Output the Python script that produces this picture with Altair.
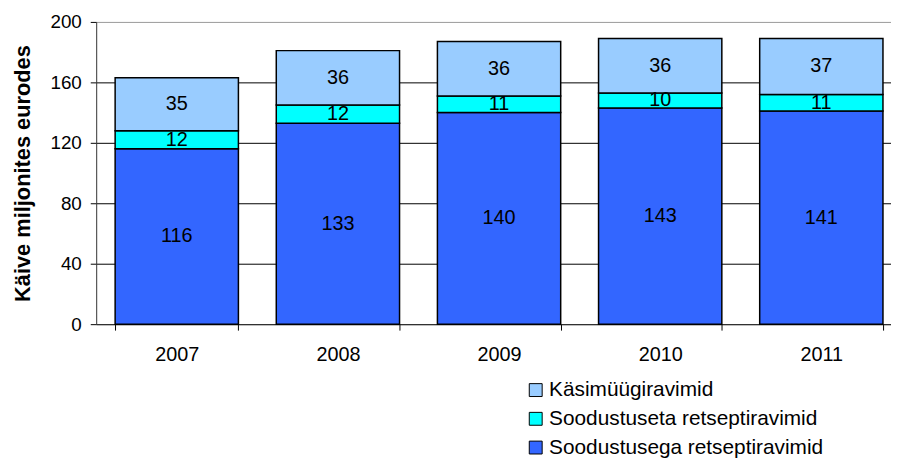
import altair as alt
import pandas as pd

years = ["2007", "2008", "2009", "2010", "2011"]
soodustusega = [116, 133, 140, 143, 141]
soodustuseta = [12, 12, 11, 10, 11]
kasimuugi = [35, 36, 36, 36, 37]
series = ["Käsimüügiravimid", "Soodustuseta retseptiravimid", "Soodustusega retseptiravimid"]
colors = ["#99CCFF", "#00FFFF", "#3366FF"]
y_ticks = [0, 40, 80, 120, 160, 200]

rows = []
for i, yr in enumerate(years):
    rows.append({"year": yr, "series": series[2], "value": soodustusega[i], "rank": 0})
    rows.append({"year": yr, "series": series[1], "value": soodustuseta[i], "rank": 1})
    rows.append({"year": yr, "series": series[0], "value": kasimuugi[i], "rank": 2})
df = pd.DataFrame(rows)

FONT = "Liberation Sans"

base = alt.Chart(df).transform_stack(
    stack="value", groupby=["year"], as_=["y0", "y1"],
    sort=[alt.SortField("rank", order="ascending")]
).transform_calculate(mid="(datum.y0 + datum.y1) / 2")


def xscale():
    return alt.Scale(domain=years, paddingInner=0.235, paddingOuter=0.1175)


xaxis = alt.Axis(
    title=None, labelAngle=0, labelFont=FONT, labelFontSize=20, labelColor="black",
    tickBand="extent", tickSize=6, tickColor="black", domainColor="#333333",
    labelPadding=15, grid=False,
)

bars = base.mark_bar(stroke="black", strokeWidth=1.5, opacity=1).encode(
    x=alt.X("year:N", scale=xscale(), axis=xaxis),
    y=alt.Y(
        "y1:Q",
        scale=alt.Scale(domain=[0, 200], nice=False),
        axis=alt.Axis(
            values=y_ticks, title="Käive miljonites eurodes", titleFont=FONT,
            titleFontSize=22, titleFontWeight="bold", titleColor="black", titlePadding=16,
            labelFont=FONT, labelFontSize=19, labelColor="black", labelPadding=9,
            tickSize=6, tickColor="black", domainColor="#333333",
            grid=True,
            gridColor=alt.condition("datum.value == 200", alt.value("#999999"), alt.value("black")),
            gridWidth=1, gridOpacity=1,
        ),
    ),
    y2="y0:Q",
    color=alt.Color(
        "series:N",
        scale=alt.Scale(domain=series, range=colors),
        legend=alt.Legend(
            title=None, orient="none", legendX=433, legendY=361,
            symbolType="square", symbolSize=169, symbolStrokeColor="black",
            symbolStrokeWidth=1, symbolOpacity=1, labelFont=FONT, labelFontSize=21,
            labelColor="black", labelLimit=0, rowPadding=7, labelOffset=3,
        ),
    ),
)

labels = base.mark_text(font=FONT, fontSize=20, color="black", baseline="middle").encode(
    x=alt.X("year:N", scale=xscale(), axis=xaxis),
    y="mid:Q",
    text="value:Q",
)

chart = alt.layer(bars, labels).properties(
    width=813, height=305,
    autosize=alt.AutoSizeParams(type="none"),
    padding={"left": 89, "top": 12, "right": -11, "bottom": 133},
).configure_view(stroke=None)

chart.save("out.html", embed_options={"renderer": "svg", "actions": False})
